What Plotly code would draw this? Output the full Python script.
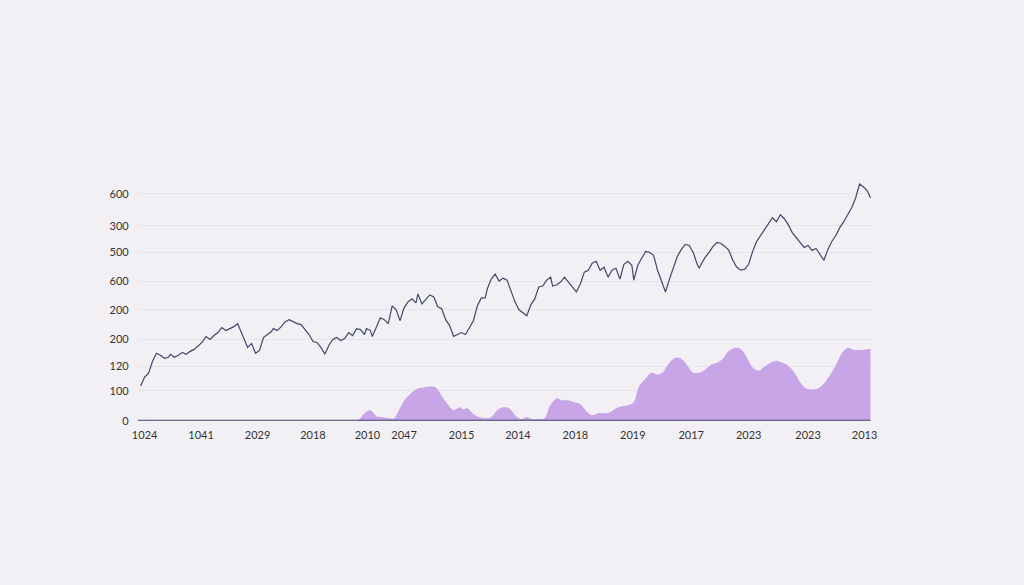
import plotly.graph_objects as go

# Line series: (x position, height above baseline)
line_x = [136,140,144,148,152,156,160,164,166,170,174,178,182,186,190,194,198,202,206,210,214,218,222,226,230,234,236,240,244,248,252,256,260,264,268,270,274,278,282,286,290,294,298,302,306,310,314,318,322,326,330,334,338,342,346,350,354,358,362,364,368,370,374,378,382,386,390,394,398,402,406,410,414,416,420,424,428,432,436,440,444,448,452,456,460,464,468,472,476,480,484,486,490,494,498,502,506,510,514,518,522,526,530,534,538,542,546,550,552,556,560,564,568,572,576,580,584,588,592,596,600,604,608,612,616,620,624,628,632,634,638,642,646,650,654,658,662,664,666,670,674,678,682,686,690,694,698,700,702,706,710,714,718,722,726,730,734,738,742,746,750,754,758,762,766,770,774,778,782,786,790,794,798,802,806,810,814,818,822,826,830,834,838,842,846,850,854,858,862,866,870,873]
line_py = [385,376,372,360,352,354,357,356,353,356,354,351,353,350,348,344,341,335,338,334,331,326,329,327,325,322,327,335,346,342,352,349,336,333,330,327,329,325,320,318,320,322,323,328,333,340,341,346,353,344,338,336,339,337,331,334,327,328,333,327,329,335,325,316,318,322,304,308,319,306,300,297,301,292,302,298,293,295,305,307,318,324,335,333,331,333,326,319,304,296,296,287,277,272,279,276,278,290,300,308,311,314,303,297,285,284,278,275,284,283,280,275,280,285,290,282,270,268,261,259,268,265,275,268,266,277,262,259,263,278,263,256,249,250,253,268,278,285,290,277,266,254,247,242,243,250,262,266,262,255,250,244,240,241,244,248,258,265,268,267,262,249,239,233,228,222,215,219,212,216,222,230,235,240,245,243,248,246,252,258,247,239,233,225,219,212,205,195,181,184,188,195]
line_y = [420 - v for v in line_py]

area_x = [133,355,362,368,374,380,386,392,398,404,410,416,422,428,434,440,446,452,458,462,466,472,478,484,490,496,502,508,514,520,526,532,538,544,550,556,562,568,574,580,586,592,598,604,610,616,622,628,634,640,646,652,658,664,670,676,682,688,694,700,706,712,718,724,730,736,742,748,754,760,766,772,778,784,790,796,802,808,814,820,826,832,838,844,848,852,856,873]
area_py = [420,420,413,410,416,417,418,418,408,398,392,388,387,386,387,396,404,410,407,409,408,414,417,418,417,410,407,408,415,419,417,419,419,418,405,398,400,400,402,404,411,415,413,413,412,408,406,405,402,385,378,372,374,371,362,357,358,365,372,372,369,364,362,358,350,347,348,357,367,370,366,362,360,362,365,372,382,388,389,388,383,375,365,353,348,347,349,348]
area_y = [420 - v for v in area_py]

y_tick_pos = [0, 30, 55, 82, 112, 141, 170, 197, 229]
y_tick_text = ["0", "100", "120", "200", "200", "600", "500", "300", "600"]
x_tick_pos = [140, 197, 254, 310, 365, 402, 460, 517, 575, 633, 692, 750, 810, 867]
x_tick_text = ["1024", "1041", "2029", "2018", "2010", "2047", "2015", "2014", "2018", "2019", "2017", "2023", "2023", "2013"]

fig = go.Figure()
fig.add_trace(go.Scatter(x=area_x, y=area_y, mode="lines", fill="tozeroy",
                         line=dict(color="#c6a3e6", width=1, shape="spline"),
                         fillcolor="rgba(196,160,230,0.95)"))
fig.add_trace(go.Scatter(x=[133, 873], y=[0, 0], mode="lines",
                         line=dict(color="#3d4a66", width=2)))
fig.add_trace(go.Scatter(x=line_x, y=line_y, mode="lines",
                         line=dict(color="#3d4a6a", width=1.2)))

fig.update_layout(
    width=1024, height=585, showlegend=False,
    paper_bgcolor="#f2f0f4", plot_bgcolor="#f2f0f4",
    margin=dict(l=0, r=0, t=0, b=0),
    font=dict(family="Lato", size=11, color="#333"),
    xaxis=dict(domain=[133/1024, 876/1024], range=[133, 876],
               tickvals=x_tick_pos, ticktext=x_tick_text, showgrid=False,
               zeroline=False, ticks="", showline=False, ticklabelstandoff=6),
    yaxis=dict(domain=[(585-425)/585, (585-175)/585], range=[0, 250],
               tickvals=y_tick_pos, ticktext=y_tick_text, showgrid=True,
               gridcolor="#e6e3ea", zeroline=False, ticks="", ticklabelstandoff=8),
)
fig.write_html("out.html", config={"displayModeBar": False},
               post_script="document.body.style.margin='0';document.body.style.background='#f2f0f4';")
